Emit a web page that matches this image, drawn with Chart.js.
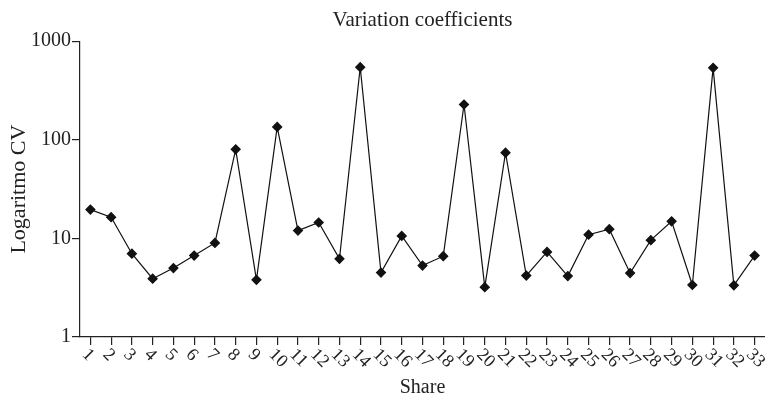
<!DOCTYPE html>
<html>
<head>
<meta charset="utf-8">
<script src="https://cdn.jsdelivr.net/npm/chart.js"></script>
<style>
  html, body { margin: 0; padding: 0; background: #fff; }
  #wrap { width: 765px; height: 398px; }
</style>
</head>
<body>
<div id="wrap"><canvas id="cvChart"></canvas></div>
<script>
// values
const shares = ['1','2','3','4','5','6','7','8','9','10','11','12','13','14','15','16','17',
                '18','19','20','21','22','23','24','25','26','27','28','29','30','31','32','33'];
const cvValues = [19.6, 16.4, 7.0, 3.9, 5.0, 6.7, 9.0, 80, 3.8, 135, 12.0, 14.5, 6.2, 545, 4.5, 10.6, 5.3,
                  6.6, 228, 3.2, 74, 4.2, 7.3, 4.15, 10.9, 12.4, 4.45, 9.6, 14.9, 3.37, 537, 3.34, 6.7];
const yTicks = [1, 10, 100, 1000];

const serif = '"Liberation Serif", "Times New Roman", serif';

// x labels are slanted the other way round (reading down to the right)
const slantedLabels = {
    id: 'slantedLabels',
    afterDraw(chart) {
        const xs = chart.scales.x;
        const ctx = chart.ctx;
        ctx.save();
        ctx.font = '18px ' + serif;
        ctx.fillStyle = '#222';
        ctx.textAlign = 'left';
        ctx.textBaseline = 'middle';
        shares.forEach((lab, i) => {
            const x = xs.getPixelForValue(i) - 5.5;
            const y = xs.top + 15;
            ctx.save();
            ctx.translate(x, y);
            ctx.rotate(Math.PI / 4);
            ctx.fillText(lab, 0, 0);
            ctx.restore();
        });
        ctx.restore();
    }
};

new Chart(document.getElementById('cvChart'), {
    type: 'line',
    data: {
        labels: shares,
        datasets: [{
            label: 'CV',
            data: cvValues,
            borderColor: '#111',
            backgroundColor: '#111',
            borderWidth: 1.2,
            pointStyle: 'rectRot',
            pointRadius: 4.5,
            pointHoverRadius: 4.5,
            tension: 0,
            fill: false
        }]
    },
    options: {
        responsive: true,
        maintainAspectRatio: false,
        animation: false,
        layout: { padding: 0, autoPadding: false },
        plugins: {
            legend: { display: false },
            tooltip: { enabled: false },
            title: {
                display: true,
                text: 'Variation coefficients',
                fullSize: false,
                color: '#222',
                font: { family: serif, size: 21, weight: 'normal', lineHeight: 1.2 },
                padding: { top: 8, bottom: 8 }
            }
        },
        scales: {
            x: {
                type: 'category',
                offset: true,
                border: { display: true, color: '#222', width: 1.2 },
                grid: { drawOnChartArea: false, drawTicks: true, tickLength: 8, color: '#222', lineWidth: 1.2 },
                ticks: { display: false },
                title: {
                    display: true,
                    text: 'Share',
                    color: '#222',
                    font: { family: serif, size: 20, lineHeight: 1 },
                    padding: { top: 33, bottom: 0 }
                }
            },
            y: {
                type: 'logarithmic',
                min: 1,
                max: 1000,
                afterBuildTicks(scale) {
                    scale.ticks = yTicks.map(v => ({ value: v }));
                },
                border: { display: true, color: '#222', width: 1.2 },
                grid: { drawOnChartArea: false, drawTicks: true, tickLength: 8, color: '#222', lineWidth: 1.2 },
                ticks: {
                    color: '#222',
                    padding: 1,
                    font: { family: serif, size: 20 },
                    callback: v => String(v)
                },
                title: {
                    display: true,
                    text: 'Logaritmo CV',
                    color: '#222',
                    font: { family: serif, size: 22, lineHeight: 1 },
                    padding: { top: 8, bottom: 0 }
                }
            }
        }
    },
    plugins: [slantedLabels]
});
</script>
</body>
</html>
